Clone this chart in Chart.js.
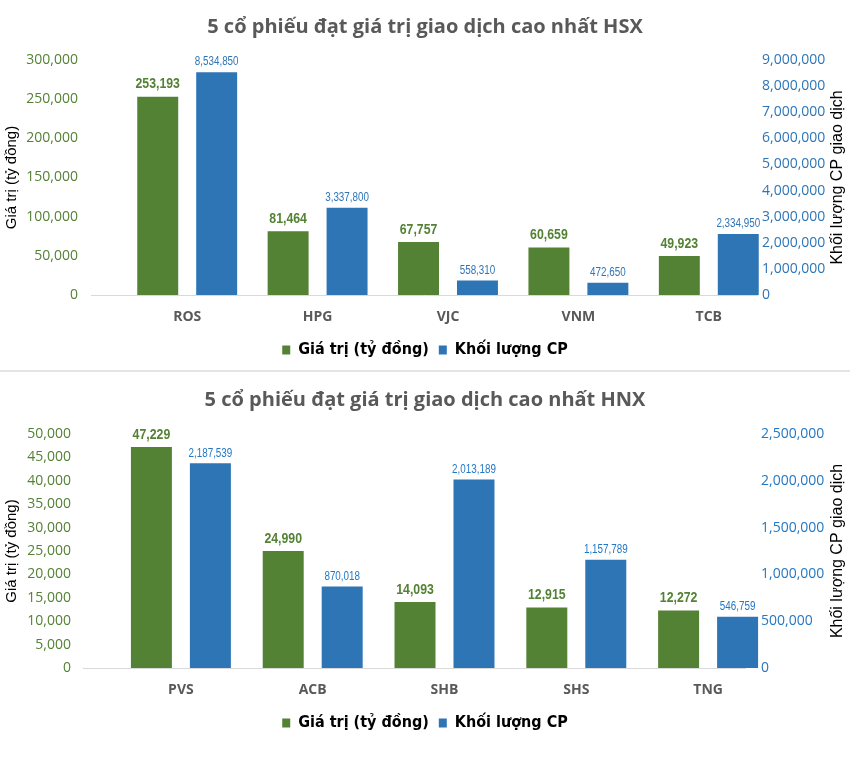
<!DOCTYPE html>
<html>
<head>
<meta charset="utf-8">
<script src="https://cdn.jsdelivr.net/npm/chart.js@4.4.1/dist/chart.umd.min.js"></script>
<style>
html, body { margin: 0; padding: 0; background: #fff; }
#khungHSX { position: absolute; left: 0; top: 0; width: 850px; height: 370px; }
#vach { position: absolute; left: 0; top: 370px; width: 850px; height: 2px; background: #e4e4e4; }
#khungHNX { position: absolute; left: 0; top: 377px; width: 850px; height: 400px; }
</style>
</head>
<body>
<div id="khungHSX"><canvas id="bieuDoHSX" width="850" height="370"></canvas></div>
<div id="vach"></div>
<div id="khungHNX"><canvas id="bieuDoHNX" width="850" height="400"></canvas></div>
<script>
// du lieu san HSX
const maCP_HSX = ['ROS', 'HPG', 'VJC', 'VNM', 'TCB'];
const giaTri_HSX = [253193, 81464, 67757, 60659, 49923];
const khoiLuong_HSX = [8534850, 3337800, 558310, 472650, 2334950];
const trucTrai_HSX = { max: 300000, buoc: 50000 };
const trucPhai_HSX = { max: 9000000, buoc: 1000000 };

// du lieu san HNX
const maCP_HNX = ['PVS', 'ACB', 'SHB', 'SHS', 'TNG'];
const giaTri_HNX = [47229, 24990, 14093, 12915, 12272];
const khoiLuong_HNX = [2187539, 870018, 2013189, 1157789, 546759];
const trucTrai_HNX = { max: 50000, buoc: 5000 };
const trucPhai_HNX = { max: 2500000, buoc: 500000 };

const tenSeries = ['Giá trị (tỷ đồng)', 'Khối lượng CP'];

const XANH_LA = '#548235';
const XANH_DUONG = '#2E75B6';
const ARIAL = '"Liberation Sans", Arial, sans-serif';
const OPEN = '"Open Sans", sans-serif';
const HEP = '"DejaVu Sans Condensed", "Liberation Sans", sans-serif';

const dinhDang = (v) => v.toLocaleString('en-US');

// nhan so lieu tren dinh cot (chu hep kieu Arial Narrow)
const nhanDuLieu = {
    id: 'nhanDuLieu',
    afterDatasetsDraw(chart, args, opts) {
        const ctx = chart.ctx;
        chart.data.datasets.forEach((ds, i) => {
            const kieu = opts.kieu[i];
            chart.getDatasetMeta(i).data.forEach((cot, j) => {
                ctx.save();
                ctx.translate(cot.x, cot.y - kieu.cach);
                ctx.scale(0.82, 1);
                ctx.font = kieu.font;
                ctx.fillStyle = kieu.mau;
                ctx.textAlign = 'center';
                ctx.textBaseline = 'bottom';
                ctx.fillText(dinhDang(ds.data[j]), 0, 0);
                ctx.restore();
            });
        });
    }
};

// duong truc x, nhan truc phai + tieu de truc phai (doc tu duoi len)
const trucPhai = {
    id: 'trucPhai',
    beforeDatasetsDraw(chart, args, opts) {
        const { ctx, chartArea } = chart;
        ctx.save();
        ctx.strokeStyle = '#d9d9d9';
        ctx.lineWidth = 1;
        ctx.beginPath();
        ctx.moveTo(chartArea.left - opts.lechTrai, chartArea.bottom + 0.5);
        ctx.lineTo(chartArea.right - opts.lechPhai, chartArea.bottom + 0.5);
        ctx.stroke();
        ctx.restore();
    },
    afterDraw(chart, args, opts) {
        const { ctx, chartArea } = chart;
        const s = chart.scales.y1;
        ctx.save();
        ctx.font = '14px ' + OPEN;
        ctx.fillStyle = opts.mau;
        ctx.textAlign = 'left';
        ctx.textBaseline = 'middle';
        s.ticks.forEach((t) => {
            ctx.fillText(dinhDang(t.value), opts.xNhan, s.getPixelForValue(t.value));
        });
        ctx.restore();

        ctx.save();
        ctx.translate(opts.xTieuDe, (chartArea.top + chartArea.bottom) / 2);
        ctx.rotate(-Math.PI / 2);
        ctx.font = '16px ' + ARIAL;
        ctx.fillStyle = '#000';
        ctx.textAlign = 'center';
        ctx.textBaseline = 'middle';
        ctx.fillText(opts.text, 0, 0);
        ctx.restore();
    }
};

const taoBieuDo = (id, p) => {
    return new Chart(document.getElementById(id), {
        type: 'bar',
        data: {
            labels: p.nhan,
            datasets: [{
                label: tenSeries[0],
                data: p.giaTri,
                backgroundColor: XANH_LA,
                borderWidth: 0,
                yAxisID: 'y',
                categoryPercentage: p.catPct,
                barPercentage: 0.695
            }, {
                label: tenSeries[1],
                data: p.khoiLuong,
                backgroundColor: XANH_DUONG,
                borderWidth: 0,
                yAxisID: 'y1',
                categoryPercentage: p.catPct,
                barPercentage: 0.695
            }]
        },
        options: {
            responsive: false,
            animation: false,
            layout: { padding: { left: 0, right: 0, top: 0, bottom: p.dem } },
            scales: {
                x: {
                    grid: { display: false, drawTicks: false },
                    border: { display: false },
                    ticks: {
                        color: '#595959',
                        padding: 14,
                        font: { family: OPEN, size: 14, weight: 'bold' }
                    },
                    afterFit: (s) => { s.height = 37; }
                },
                y: {
                    position: 'left',
                    min: 0,
                    max: p.trai.max,
                    grid: { display: false, drawTicks: false },
                    border: { display: false },
                    ticks: {
                        stepSize: p.trai.buoc,
                        color: XANH_LA,
                        padding: 44,
                        font: { family: OPEN, size: 14 },
                        callback: (v) => dinhDang(v)
                    },
                    title: {
                        display: true,
                        text: 'Giá trị (tỷ đồng)',
                        color: '#000',
                        padding: { top: 3, bottom: 0 },
                        font: { family: ARIAL, size: 15 }
                    },
                    afterFit: (s) => { s.width = p.trucTraiRong; }
                },
                y1: {
                    position: 'right',
                    min: 0,
                    max: p.phai.max,
                    grid: { display: false, drawTicks: false },
                    border: { display: false },
                    ticks: { stepSize: p.phai.buoc, display: false },
                    afterFit: (s) => { s.width = 76; }
                }
            },
            plugins: {
                title: {
                    display: true,
                    text: p.tieuDe,
                    color: '#595959',
                    padding: { top: p.tdTren, bottom: p.tdDuoi },
                    font: { family: OPEN, size: 20, weight: 'bold' }
                },
                legend: {
                    position: 'bottom',
                    labels: {
                        color: '#000',
                        boxWidth: 8,
                        boxHeight: 9,
                        padding: 10,
                        font: { family: HEP, size: 16, weight: 'bold' }
                    }
                },
                tooltip: { enabled: false },
                nhanDuLieu: {
                    kieu: [
                        { font: 'bold 15px ' + ARIAL, mau: XANH_LA, cach: 5 },
                        { font: '12px ' + ARIAL, mau: p.mauPhai, cach: 4 }
                    ]
                },
                trucPhai: {
                    xNhan: p.xNhanPhai,
                    mau: p.mauPhai,
                    xTieuDe: 838,
                    text: 'Khối lượng CP giao dịch',
                    lechTrai: p.lechTrai,
                    lechPhai: p.lechPhai
                }
            }
        },
        plugins: [nhanDuLieu, trucPhai]
    });
};

taoBieuDo('bieuDoHSX', {
    nhan: maCP_HSX,
    giaTri: giaTri_HSX,
    khoiLuong: khoiLuong_HSX,
    trai: trucTrai_HSX,
    phai: trucPhai_HSX,
    tieuDe: '5 cổ phiếu đạt giá trị giao dịch cao nhất HSX',
    tdTren: 15,
    tdDuoi: 21,
    dem: 2,
    catPct: 0.904,
    trucTraiRong: 122,
    xNhanPhai: 762,
    lechTrai: 31,
    lechPhai: 16,
    mauPhai: XANH_DUONG
});

taoBieuDo('bieuDoHNX', {
    nhan: maCP_HNX,
    giaTri: giaTri_HNX,
    khoiLuong: khoiLuong_HNX,
    trai: trucTrai_HNX,
    phai: trucPhai_HNX,
    tieuDe: '5 cổ phiếu đạt giá trị giao dịch cao nhất HNX',
    tdTren: 11,
    tdDuoi: 22,
    dem: 36,
    catPct: 0.895,
    trucTraiRong: 115,
    xNhanPhai: 761,
    lechTrai: 32,
    lechPhai: 28,
    mauPhai: '#2378C4'
});
</script>
</body>
</html>
